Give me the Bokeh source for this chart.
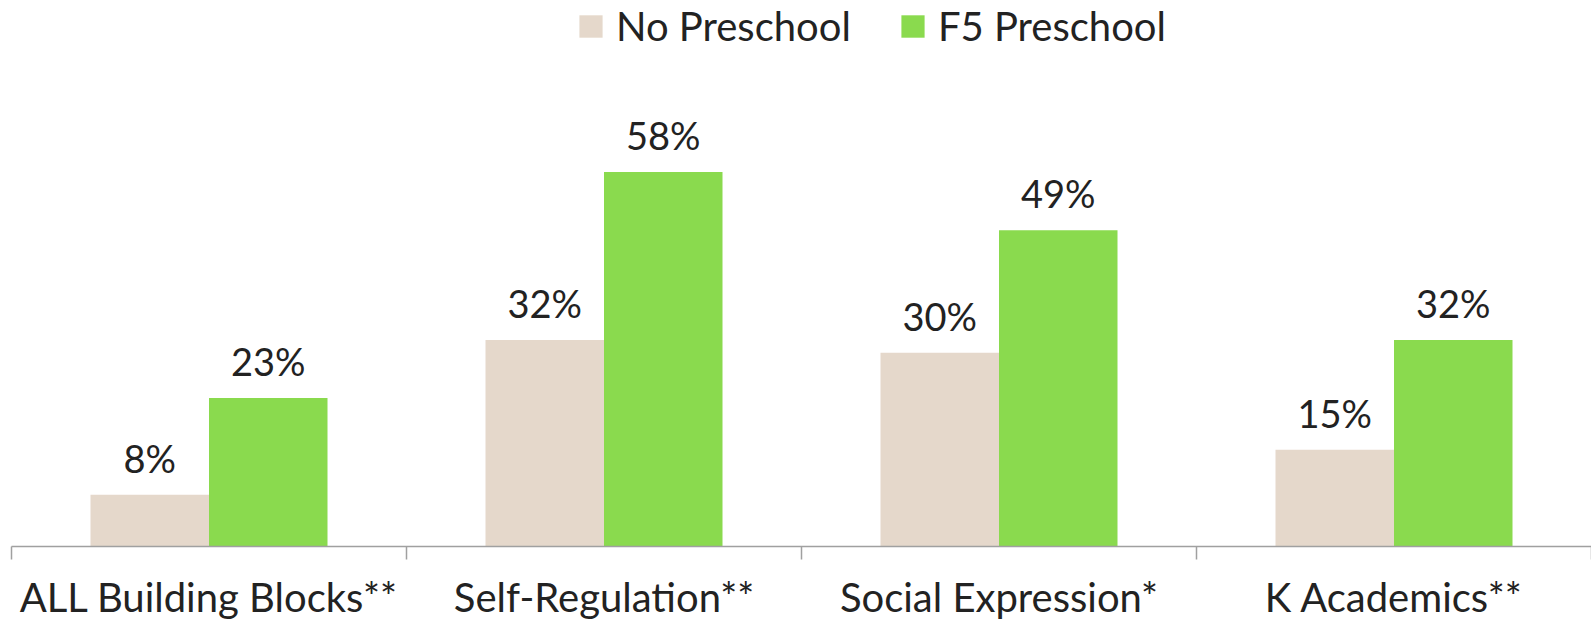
from bokeh.plotting import figure
from bokeh.models import (ColumnDataSource, Range1d, LinearAxis, FixedTicker,
                          Legend, LegendItem)
from bokeh.core.properties import value
from bokeh.embed import file_html
from bokeh.resources import INLINE

# ---- data ----
categories = ["ALL Building Blocks**", "Self-Regulation**", "Social Expression*", "K Academics**"]
series_names = ["No Preschool", "F5 Preschool"]
no_preschool = [8, 32, 30, 15]
f5_preschool = [23, 58, 49, 32]

# ---- style ----
colors = ["#E5D8CB", "#8ADA4E"]
FONT = "Lato"
FS = "40px"
FS_LBL = "38px"
TEXT_COLOR = "#222222"
AXIS_COLOR = "#A0A0A0"

W, H = 1591, 623
GROUP_PX = 395.0
PX_PER_PCT = 6.48
FRAME_LEFT = 11
FRAME_BOTTOM = 75
frame_w = W - FRAME_LEFT
frame_h = H - FRAME_BOTTOM

centers = [i + 0.5 for i in range(len(categories))]
bar_w = 0.3

p = figure(width=W, height=H, output_backend="svg", toolbar_location=None,
           x_range=Range1d(0, frame_w / GROUP_PX),
           y_range=Range1d(0, frame_h / PX_PER_PCT),
           x_axis_location=None, y_axis_location=None,
           min_border_left=FRAME_LEFT, min_border_right=0,
           min_border_top=0, min_border_bottom=FRAME_BOTTOM)
p.outline_line_color = None
p.xgrid.visible = False
p.ygrid.visible = False
p.background_fill_color = "white"
p.border_fill_color = "white"

renderers = []
for k, (vals, col) in enumerate(zip([no_preschool, f5_preschool], colors)):
    offset = (k - 0.5) * bar_w
    src = ColumnDataSource(dict(
        x=[c + offset for c in centers],
        top=vals,
        label=[f"{v}%" for v in vals],
    ))
    r = p.vbar(x="x", top="top", bottom=0, width=bar_w, source=src,
               fill_color=col, line_color=None)
    renderers.append(r)
    p.text(x="x", y="top", text="label", source=src,
           text_align="center", text_baseline="alphabetic", y_offset=-37,
           text_font=value(FONT), text_font_size=value(FS_LBL), text_color=TEXT_COLOR)

# category axis: labels at group centres, ticks at group boundaries
xaxis = LinearAxis(
    ticker=FixedTicker(ticks=centers,
                       minor_ticks=[float(i) for i in range(len(categories) + 1)]),
    major_label_overrides={c: cat for c, cat in zip(centers, categories)},
    axis_line_color=AXIS_COLOR, axis_line_width=1.5,
    major_tick_in=0, major_tick_out=0,
    minor_tick_in=0, minor_tick_out=13,
    minor_tick_line_color=AXIS_COLOR, minor_tick_line_width=1.5,
    major_label_standoff=13,
    major_label_text_font=FONT, major_label_text_font_size=FS,
    major_label_text_color=TEXT_COLOR,
)
p.add_layout(xaxis, "below")

legend = Legend(
    items=[LegendItem(label=series_names[i], renderers=[renderers[i]]) for i in range(2)],
    orientation="horizontal", location=(565, 496),
    glyph_width=29, glyph_height=28, label_standoff=11, spacing=47,
    padding=0, margin=0, border_line_color=None, background_fill_alpha=0,
    label_text_font=FONT, label_text_font_size=FS, label_text_color=TEXT_COLOR,
)
p.add_layout(legend)

open("out.html", "w").write(file_html(p, INLINE))
